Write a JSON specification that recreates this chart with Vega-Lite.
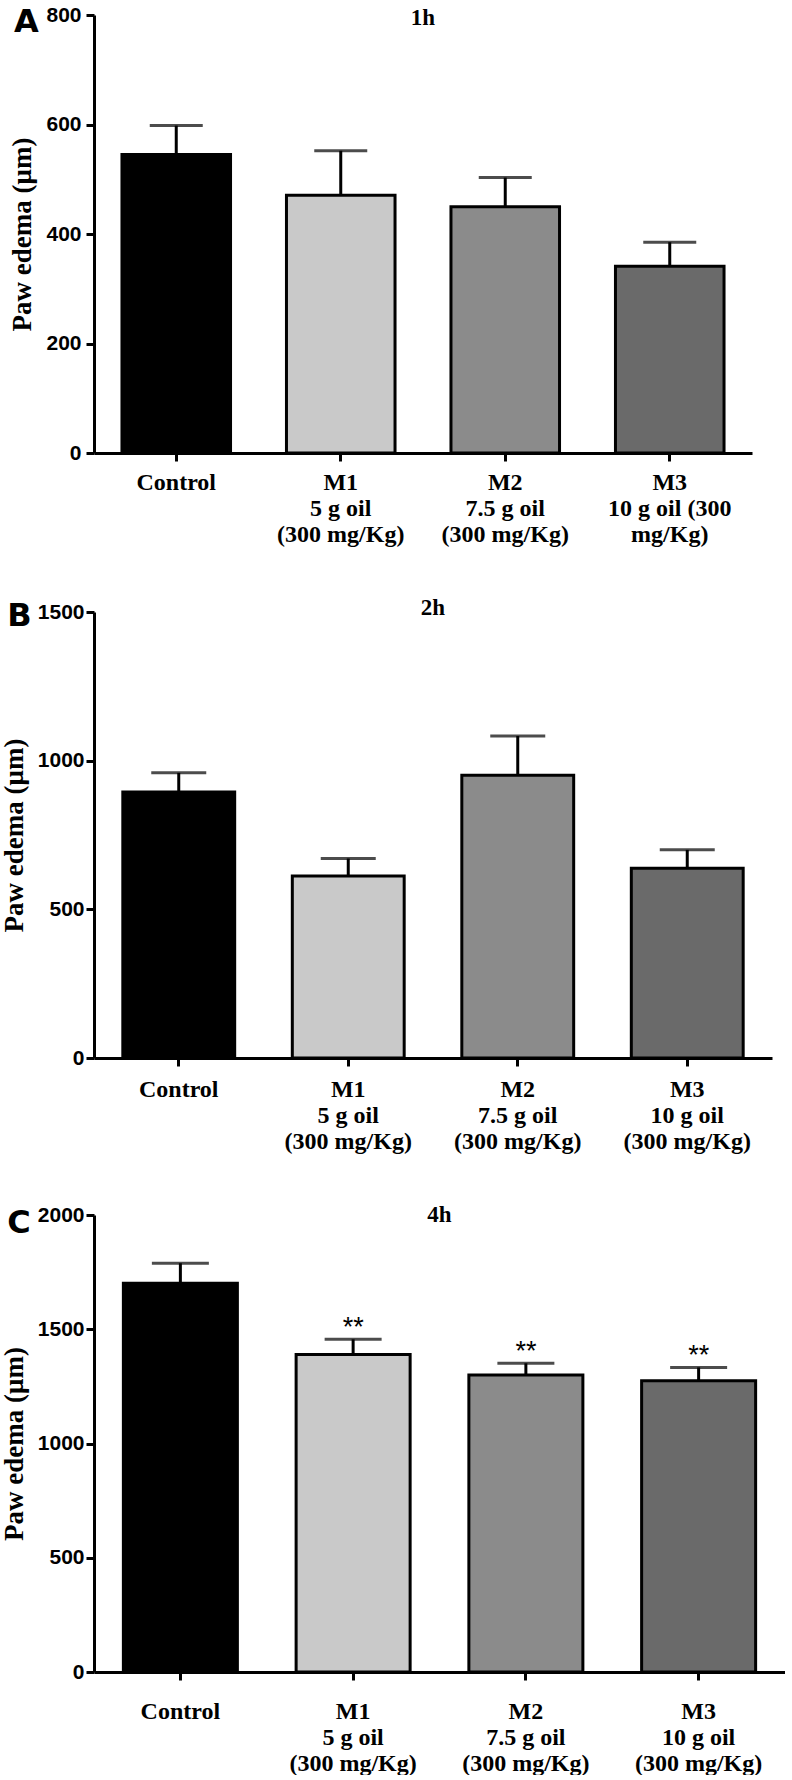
{
  "$schema": "https://vega.github.io/schema/vega-lite/v6.json",
  "background": "white",
  "padding": {"left": 0, "top": 4, "right": 0, "bottom": 0},
  "columns": 1,
  "align": "none",
  "spacing": 51,
  "config": {
    "view": {"stroke": null},
    "axis": {
      "grid": false,
      "domainColor": "black",
      "domainWidth": 3,
      "tickColor": "black",
      "tickWidth": 3,
      "tickSize": 8,
      "labelColor": "black",
      "titleColor": "black"
    },
    "axisY": {
      "labelFont": "Liberation Sans",
      "labelFontWeight": "bold",
      "labelFontSize": 21,
      "titleFont": "Liberation Serif",
      "titleFontWeight": "bold",
      "titleFontSize": 27,
      "format": "d"
    },
    "axisX": {
      "labelAngle": 0,
      "labelFont": "Liberation Serif",
      "labelFontWeight": "bold",
      "labelFontSize": 24,
      "labelLineHeight": 26,
      "labelLimit": 0
    }
  },
  "datasets": {
    "h1": [
      {"group": "Control", "label": "Control", "value": 545, "upper": 598},
      {"group": "M1", "label": "M1|5 g oil|(300 mg/Kg)", "value": 471, "upper": 552},
      {"group": "M2", "label": "M2|7.5 g oil|(300 mg/Kg)", "value": 450, "upper": 503},
      {"group": "M3", "label": "M3|10 g oil (300|mg/Kg)", "value": 341, "upper": 385}
    ],
    "h2": [
      {"group": "Control", "label": "Control", "value": 895, "upper": 959},
      {"group": "M1", "label": "M1|5 g oil|(300 mg/Kg)", "value": 612, "upper": 671},
      {"group": "M2", "label": "M2|7.5 g oil|(300 mg/Kg)", "value": 951, "upper": 1083},
      {"group": "M3", "label": "M3|10 g oil|(300 mg/Kg)", "value": 638, "upper": 700}
    ],
    "h4": [
      {"group": "Control", "label": "Control", "value": 1701, "upper": 1789, "sig": ""},
      {"group": "M1", "label": "M1|5 g oil|(300 mg/Kg)", "value": 1390, "upper": 1456, "sig": "**"},
      {"group": "M2", "label": "M2|7.5 g oil|(300 mg/Kg)", "value": 1300, "upper": 1351, "sig": "**"},
      {"group": "M3", "label": "M3|10 g oil|(300 mg/Kg)", "value": 1275, "upper": 1333, "sig": "**"}
    ],
    "t1": [{"hour": "1h", "letter": "A", "hpos": 0.5, "lpos": -0.1216, "top": 800}],
    "t2": [{"hour": "2h", "letter": "B", "hpos": 0.5, "lpos": -0.1279, "top": 1500}],
    "t4": [{"hour": "4h", "letter": "C", "hpos": 0.5, "lpos": -0.1255, "top": 2000}]
  },
  "concat": [
    {
      "width": 658,
      "height": 438,
      "resolve": {"scale": {"x": "independent"}},
      "layer": [
        {
          "data": {"name": "h1"},
          "encoding": {
            "x": {"field": "label", "type": "nominal", "sort": null, "title": null,
              "scale": {"paddingInner": 0.34, "paddingOuter": 0.17},
              "axis": {"labelExpr": "split(datum.label, '|')", "labelPadding": 9}},
            "y": {"field": "value", "type": "quantitative", "title": "Paw edema (μm)",
              "scale": {"domain": [0, 800], "nice": false},
              "axis": {"values": [0, 200, 400, 600, 800], "labelPadding": 5, "titlePadding": 9}}
          },
          "layer": [
            {"mark": {"type": "rule", "strokeWidth": 3, "color": "black"}, "encoding": {"y2": {"field": "upper"}}},
            {"mark": {"type": "tick", "size": 53, "thickness": 3, "color": "black"},
              "encoding": {"y": {"field": "upper", "type": "quantitative", "title": "Paw edema (μm)",
                "axis": {"values": [0, 200, 400, 600, 800], "labelPadding": 5, "titlePadding": 9}}}},
            {"mark": {"type": "bar", "stroke": "black", "strokeWidth": 3},
              "encoding": {"color": {"field": "group", "type": "nominal", "legend": null,
                "scale": {"domain": ["Control", "M1", "M2", "M3"], "range": ["#000000", "#c9c9c9", "#8b8b8b", "#6a6a6a"]}}}}
          ]
        },
        {
          "data": {"name": "t1"},
          "mark": {"type": "text", "font": "Liberation Serif", "fontWeight": "bold", "fontSize": 23, "baseline": "alphabetic", "dy": 10, "color": "black"},
          "encoding": {
            "x": {"field": "hpos", "type": "quantitative", "scale": {"domain": [0, 1]}, "axis": null},
            "y": {"field": "top", "type": "quantitative", "title": "Paw edema (μm)",
              "axis": {"values": [0, 200, 400, 600, 800], "labelPadding": 5, "titlePadding": 9}},
            "text": {"field": "hour"}
          }
        },
        {
          "data": {"name": "t1"},
          "mark": {"type": "text", "font": "DejaVu Sans", "fontWeight": "bold", "fontSize": 32, "align": "left", "baseline": "alphabetic", "dy": 17, "color": "black"},
          "encoding": {
            "x": {"field": "lpos", "type": "quantitative", "scale": {"domain": [0, 1]}, "axis": null},
            "y": {"field": "top", "type": "quantitative", "title": "Paw edema (μm)",
              "axis": {"values": [0, 200, 400, 600, 800], "labelPadding": 5, "titlePadding": 9}},
            "text": {"field": "letter"}
          }
        }
      ]
    },
    {
      "width": 678,
      "height": 446,
      "resolve": {"scale": {"x": "independent"}},
      "layer": [
        {
          "data": {"name": "h2"},
          "encoding": {
            "x": {"field": "label", "type": "nominal", "sort": null, "title": null,
              "scale": {"paddingInner": 0.34, "paddingOuter": 0.17},
              "axis": {"labelExpr": "split(datum.label, '|')", "labelPadding": 11}},
            "y": {"field": "value", "type": "quantitative", "title": "Paw edema (μm)",
              "scale": {"domain": [0, 1500], "nice": false},
              "axis": {"values": [0, 500, 1000, 1500], "labelPadding": 2, "titlePadding": 9}}
          },
          "layer": [
            {"mark": {"type": "rule", "strokeWidth": 3, "color": "black"}, "encoding": {"y2": {"field": "upper"}}},
            {"mark": {"type": "tick", "size": 55, "thickness": 3, "color": "black"},
              "encoding": {"y": {"field": "upper", "type": "quantitative", "title": "Paw edema (μm)",
                "axis": {"values": [0, 500, 1000, 1500], "labelPadding": 2, "titlePadding": 9}}}},
            {"mark": {"type": "bar", "stroke": "black", "strokeWidth": 3},
              "encoding": {"color": {"field": "group", "type": "nominal", "legend": null,
                "scale": {"domain": ["Control", "M1", "M2", "M3"], "range": ["#000000", "#c9c9c9", "#8b8b8b", "#6a6a6a"]}}}}
          ]
        },
        {
          "data": {"name": "t2"},
          "mark": {"type": "text", "font": "Liberation Serif", "fontWeight": "bold", "fontSize": 23, "baseline": "alphabetic", "dy": 3, "color": "black"},
          "encoding": {
            "x": {"field": "hpos", "type": "quantitative", "scale": {"domain": [0, 1]}, "axis": null},
            "y": {"field": "top", "type": "quantitative", "title": "Paw edema (μm)",
              "axis": {"values": [0, 500, 1000, 1500], "labelPadding": 2, "titlePadding": 9}},
            "text": {"field": "hour"}
          }
        },
        {
          "data": {"name": "t2"},
          "mark": {"type": "text", "font": "DejaVu Sans", "fontWeight": "bold", "fontSize": 32, "align": "left", "baseline": "alphabetic", "dy": 14, "color": "black"},
          "encoding": {
            "x": {"field": "lpos", "type": "quantitative", "scale": {"domain": [0, 1]}, "axis": null},
            "y": {"field": "top", "type": "quantitative", "title": "Paw edema (μm)",
              "axis": {"values": [0, 500, 1000, 1500], "labelPadding": 2, "titlePadding": 9}},
            "text": {"field": "letter"}
          }
        }
      ]
    },
    {
      "width": 691,
      "height": 457,
      "resolve": {"scale": {"x": "independent"}},
      "layer": [
        {
          "data": {"name": "h4"},
          "encoding": {
            "x": {"field": "label", "type": "nominal", "sort": null, "title": null,
              "scale": {"paddingInner": 0.34, "paddingOuter": 0.17},
              "axis": {"labelExpr": "split(datum.label, '|')", "labelPadding": 19}},
            "y": {"field": "value", "type": "quantitative", "title": "Paw edema (μm)",
              "scale": {"domain": [0, 2000], "nice": false},
              "axis": {"values": [0, 500, 1000, 1500, 2000], "labelPadding": 2, "titlePadding": 9}}
          },
          "layer": [
            {"mark": {"type": "rule", "strokeWidth": 3, "color": "black"}, "encoding": {"y2": {"field": "upper"}}},
            {"mark": {"type": "tick", "size": 57, "thickness": 3, "color": "black"},
              "encoding": {"y": {"field": "upper", "type": "quantitative", "title": "Paw edema (μm)",
                "axis": {"values": [0, 500, 1000, 1500, 2000], "labelPadding": 2, "titlePadding": 9}}}},
            {"mark": {"type": "bar", "stroke": "black", "strokeWidth": 3},
              "encoding": {"color": {"field": "group", "type": "nominal", "legend": null,
                "scale": {"domain": ["Control", "M1", "M2", "M3"], "range": ["#000000", "#c9c9c9", "#8b8b8b", "#6a6a6a"]}}}},
            {"mark": {"type": "text", "font": "Liberation Sans", "fontSize": 27, "baseline": "alphabetic", "dy": -3, "color": "black"},
              "encoding": {"y": {"field": "upper", "type": "quantitative", "title": "Paw edema (μm)",
                "axis": {"values": [0, 500, 1000, 1500, 2000], "labelPadding": 2, "titlePadding": 9}},
                "text": {"field": "sig"}}}
          ]
        },
        {
          "data": {"name": "t4"},
          "mark": {"type": "text", "font": "Liberation Serif", "fontWeight": "bold", "fontSize": 23, "baseline": "alphabetic", "dy": 7, "color": "black"},
          "encoding": {
            "x": {"field": "hpos", "type": "quantitative", "scale": {"domain": [0, 1]}, "axis": null},
            "y": {"field": "top", "type": "quantitative", "title": "Paw edema (μm)",
              "axis": {"values": [0, 500, 1000, 1500, 2000], "labelPadding": 2, "titlePadding": 9}},
            "text": {"field": "hour"}
          }
        },
        {
          "data": {"name": "t4"},
          "mark": {"type": "text", "font": "DejaVu Sans", "fontWeight": "bold", "fontSize": 32, "align": "left", "baseline": "alphabetic", "dy": 18, "color": "black"},
          "encoding": {
            "x": {"field": "lpos", "type": "quantitative", "scale": {"domain": [0, 1]}, "axis": null},
            "y": {"field": "top", "type": "quantitative", "title": "Paw edema (μm)",
              "axis": {"values": [0, 500, 1000, 1500, 2000], "labelPadding": 2, "titlePadding": 9}},
            "text": {"field": "letter"}
          }
        }
      ]
    }
  ]
}
